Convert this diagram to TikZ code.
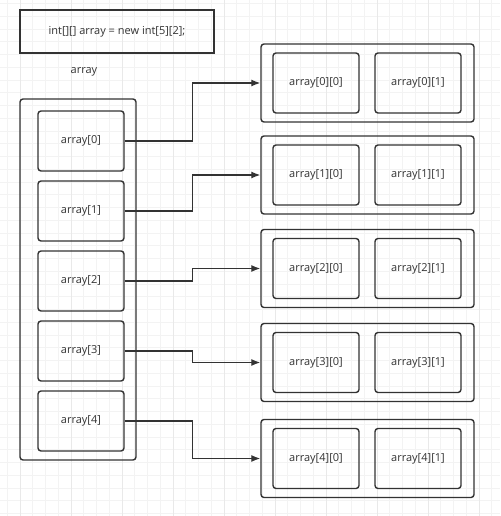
\documentclass[tikz,border=0pt]{standalone}
\usepackage{fontspec}
\setmainfont{Open Sans}
\usepackage{xcolor}
\usepackage{tikz}
\usetikzlibrary{arrows.meta}

\definecolor{ink}{HTML}{333333}
\definecolor{gridminor}{HTML}{F3F3F3}
\definecolor{gridmajor}{HTML}{E9E9E9}

\tikzset{
  codebox/.style={draw=ink,line width=1.4pt,minimum width=194pt,minimum height=43pt,
    text=ink,font=\fontsize{11}{13}\selectfont},
  outerbox/.style={draw=ink,line width=1.4pt,rounded corners=3pt},
  cellbox/.style={draw=ink,line width=1.4pt,rounded corners=3pt,minimum width=86pt,
    minimum height=60pt,text=ink,font=\fontsize{11}{13}\selectfont},
  rowbox/.style={draw=ink,line width=1.4pt,rounded corners=3pt,minimum width=213pt,
    minimum height=78pt},
  link/.style={draw=ink,line width=1.3pt,-{Latex[length=9pt,width=7pt]}},
}

\begin{document}
\begin{tikzpicture}[x=1pt,y=-1pt]
    \useasboundingbox (0,0) rectangle (500,516);
    \fill[white] (0,0) rectangle (500,516);

    % background grid
    \foreach \gx in {7.25,20,...,500} \draw[gridminor,line width=0.6pt] (\gx,0) -- (\gx,516);
    \foreach \gy in {3.5,16.25,...,516} \draw[gridminor,line width=0.6pt] (0,\gy) -- (500,\gy);
    \foreach \gx in {20,71,...,500} \draw[gridmajor,line width=0.6pt] (\gx,0) -- (\gx,516);

    % declaration
    \node[codebox] (decl) at (117,31.5) {int[][] array = new int[5][2];};
    \node[text=ink,font=\fontsize{11}{13}\selectfont] (name) at (84,72) {array};

    % the outer array
    \node[outerbox,minimum width=116pt,minimum height=361pt] (outer) at (78,279.5) {};
    \node[cellbox] (a0) at (81,141) {array[0]};
    \node[cellbox] (a1) at (81,211) {array[1]};
    \node[cellbox] (a2) at (81,281) {array[2]};
    \node[cellbox] (a3) at (81,351) {array[3]};
    \node[cellbox] (a4) at (81,421) {array[4]};

    % the rows
    \node[rowbox] (r0) at (367.5,83) {};
    \node[cellbox] (r0c0) at (316,83) {array[0][0]};
    \node[cellbox] (r0c1) at (418,83) {array[0][1]};

    \node[rowbox] (r1) at (367.5,175) {};
    \node[cellbox] (r1c0) at (316,175) {array[1][0]};
    \node[cellbox] (r1c1) at (418,175) {array[1][1]};

    \node[rowbox] (r2) at (367.5,268.5) {};
    \node[cellbox] (r2c0) at (316,268.5) {array[2][0]};
    \node[cellbox] (r2c1) at (418,268.5) {array[2][1]};

    \node[rowbox] (r3) at (367.5,362.5) {};
    \node[cellbox] (r3c0) at (316,362.5) {array[3][0]};
    \node[cellbox] (r3c1) at (418,362.5) {array[3][1]};

    \node[rowbox] (r4) at (367.5,458.5) {};
    \node[cellbox] (r4c0) at (316,458.5) {array[4][0]};
    \node[cellbox] (r4c1) at (418,458.5) {array[4][1]};

    % references
    \draw[link] (a0.east) -- ++(68,0) |- (r0.west);
    \draw[link] (a1.east) -- ++(68,0) |- (r1.west);
    \draw[link] (a2.east) -- ++(68,0) |- (r2.west);
    \draw[link] (a3.east) -- ++(68,0) |- (r3.west);
    \draw[link] (a4.east) -- ++(68,0) |- (r4.west);
\end{tikzpicture}
\end{document}
